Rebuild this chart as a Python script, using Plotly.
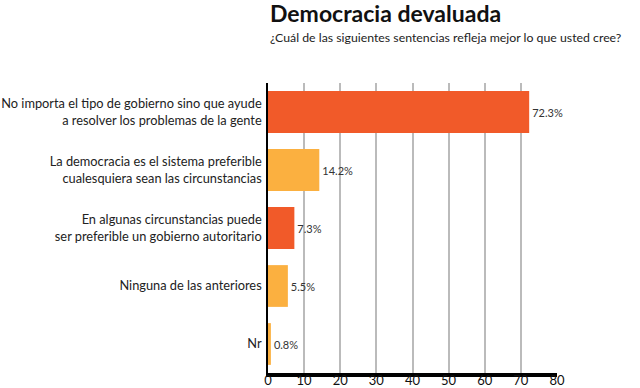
import plotly.graph_objects as go

categories = [
    "No importa el tipo de gobierno sino que ayude<br>a resolver los problemas de la gente",
    "La democracia es el sistema preferible<br>cualesquiera sean las circunstancias",
    "En algunas circunstancias puede<br>ser preferible un gobierno autoritario",
    "Ninguna de las anteriores",
    "Nr",
]
values = [72.3, 14.2, 7.3, 5.5, 0.8]
value_labels = ["72.3%", "14.2%", "7.3%", "5.5%", "0.8%"]
colors = ["#F15A29", "#FBB040", "#F15A29", "#FBB040", "#FBB040"]
x_ticks = [0, 10, 20, 30, 40, 50, 60, 70, 80]

FONT = "Lato"
L, R, T, B = 268, 83, 83, 15
W, H = 640, 388
PW, PH = W - L - R, H - T - B


def px_x(x):
    return (x - L) / PW


def px_y(y):
    return (H - B - y) / PH


fig = go.Figure(
    go.Bar(
        y=categories,
        x=values,
        orientation="h",
        marker=dict(color=colors, line=dict(width=0)),
        text=value_labels,
        textposition="outside",
        textfont=dict(family=FONT, size=11, color="#333333"),
        cliponaxis=False,
        width=0.72,
    )
)

fig.update_layout(
    width=W,
    height=H,
    margin=dict(l=L, r=R, t=T, b=B, autoexpand=False),
    paper_bgcolor="white",
    plot_bgcolor="white",
    showlegend=False,
    font=dict(family=FONT, color="#222222"),
)
fig.add_annotation(text="<b>Democracia devaluada</b>", xref="paper", yref="paper",
                   x=px_x(268), y=px_y(-3), xanchor="left", yanchor="top",
                   showarrow=False, font=dict(family=FONT, size=23, color="#111111"))
fig.add_annotation(text="¿Cuál de las siguientes sentencias refleja mejor lo que usted cree?",
                   xref="paper", yref="paper",
                   x=px_x(268), y=px_y(28), xanchor="left", yanchor="top",
                   showarrow=False, font=dict(family=FONT, size=12.3, color="#222222"))

fig.update_xaxes(
    range=[0, 80],
    tickvals=x_ticks,
    ticks="",
    showgrid=True,
    gridcolor="#BBBBBB",
    gridwidth=1.5,
    showline=True,
    linecolor="black",
    linewidth=4,
    zeroline=False,
    tickfont=dict(family=FONT, size=13, color="#111111"),
    ticklabelstandoff=-8,
    layer="above traces",
    automargin=False,
    fixedrange=True,
)
fig.update_yaxes(
    autorange="reversed",
    ticks="",
    showline=True,
    linecolor="black",
    linewidth=1.5,
    showgrid=False,
    tickfont=dict(family=FONT, size=12.8, color="#222222"),
    ticklabelstandoff=2,
    automargin=False,
    fixedrange=True,
)

fig.write_html("out.html", config={"displayModeBar": False},
               post_script="document.body.style.margin='0';")
